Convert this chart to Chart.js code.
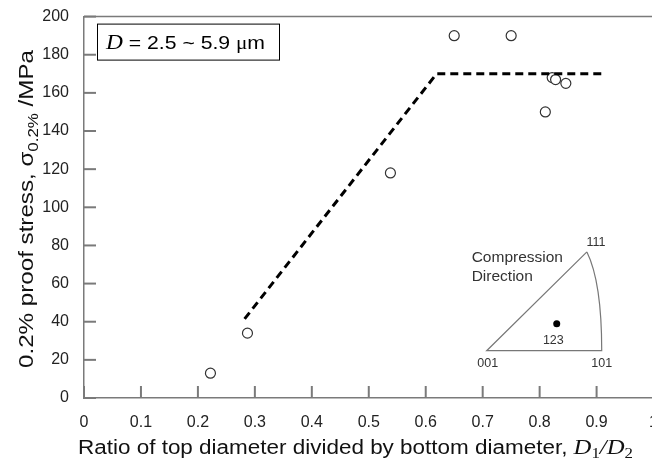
<!DOCTYPE html>
<html>
<head>
  <meta charset="utf-8">
  <title>Proof stress vs diameter ratio</title>
  <script src="https://cdn.jsdelivr.net/npm/chart.js"></script>
  <style>
    html, body { margin: 0; padding: 0; overflow: hidden; background: #fff; }
    .chart-container { width: 665px; height: 464px; position: relative; }
  </style>
</head>
<body>
  <div class="chart-container">
    <canvas id="stressChart"></canvas>
  </div>

  <script>
    // measured samples
    const ratio  = [0.222, 0.287, 0.538, 0.650, 0.750, 0.810, 0.822, 0.828, 0.846];
    const stress = [13, 34, 118, 190, 190, 150, 168, 167, 165];
    // dashed guide line
    const fitX = [0.282, 0.619, 0.912];
    const fitY = [41.5, 170, 170];
    // axis ticks
    const xTicks = [0, 0.1, 0.2, 0.3, 0.4, 0.5, 0.6, 0.7, 0.8, 0.9, 1];
    const yTicks = [0, 20, 40, 60, 80, 100, 120, 140, 160, 180, 200];

    const SANS = '"Liberation Sans", Arial, sans-serif';
    const SERIF = '"Liberation Serif", "Times New Roman", serif';
    const AXIS = '#7a7a7a';

    function drawRich(ctx, parts, x, y, width) {
      let total = 0;
      parts.forEach(p => { ctx.font = p.f; total += ctx.measureText(p.t).width; });
      const sx = width ? width / total : 1;
      ctx.save();
      ctx.translate(x, y);
      ctx.scale(sx, 1);
      ctx.textAlign = 'left';
      ctx.textBaseline = 'alphabetic';
      let cx = 0;
      parts.forEach(p => {
        ctx.font = p.f;
        ctx.fillText(p.t, cx, p.dy || 0);
        cx += ctx.measureText(p.t).width;
      });
      ctx.restore();
    }

    const decor = {
      id: 'decor',
      beforeDatasetsDraw(chart) {
        const ctx = chart.ctx, a = chart.chartArea;
        const xs = chart.scales.x, ys = chart.scales.y;
        ctx.save();
        ctx.strokeStyle = AXIS;
        ctx.lineWidth = 1.5;
        // top frame line
        ctx.beginPath();
        ctx.moveTo(a.left, a.top); ctx.lineTo(chart.width, a.top);
        ctx.stroke();
        // inward ticks
        ctx.lineWidth = 2;
        yTicks.forEach(v => {
          const py = ys.getPixelForValue(v);
          ctx.beginPath(); ctx.moveTo(a.left, py); ctx.lineTo(a.left + 12, py); ctx.stroke();
        });
        xTicks.forEach(v => {
          const px = xs.getPixelForValue(v);
          ctx.beginPath(); ctx.moveTo(px, a.bottom); ctx.lineTo(px, a.bottom - 12); ctx.stroke();
        });

        // label box
        ctx.fillStyle = '#fff';
        ctx.strokeStyle = '#000';
        ctx.lineWidth = 1;
        ctx.fillRect(a.left + 13, a.top + 7, 182, 36);
        ctx.strokeRect(a.left + 13.5, a.top + 7.5, 182, 36);
        ctx.fillStyle = '#000';
        drawRich(ctx, [
          { t: 'D', f: 'italic 21px ' + SERIF },
          { t: ' = 2.5 ~ 5.9 ', f: '19px ' + SANS },
          { t: 'μ', f: '19px ' + SERIF },
          { t: 'm', f: '19px ' + SANS }
        ], a.left + 22, a.top + 32, 159);

        // inverse pole figure inset
        const p001 = [xs.getPixelForValue(0.707), ys.getPixelForValue(24.8)];
        const p101 = [xs.getPixelForValue(0.909), ys.getPixelForValue(24.8)];
        const p111 = [xs.getPixelForValue(0.883), ys.getPixelForValue(76.6)];
        ctx.strokeStyle = '#777';
        ctx.lineWidth = 1.2;
        ctx.beginPath();
        ctx.moveTo(p111[0], p111[1]);
        ctx.lineTo(p001[0], p001[1]);
        ctx.lineTo(p101[0], p101[1]);
        ctx.quadraticCurveTo(p101[0], p111[1] + 30, p111[0], p111[1]);
        ctx.stroke();
        ctx.fillStyle = '#000';
        ctx.beginPath();
        ctx.arc(xs.getPixelForValue(0.830), ys.getPixelForValue(38.9), 3.5, 0, Math.PI * 2);
        ctx.fill();
        ctx.fillStyle = '#333';
        ctx.font = '15.5px ' + SANS;
        ctx.textAlign = 'left';
        ctx.textBaseline = 'alphabetic';
        ctx.fillText('Compression', p001[0] - 15, p111[1] + 10);
        ctx.fillText('Direction', p001[0] - 15, p111[1] + 29);
        ctx.font = '12.5px ' + SANS;
        ctx.textAlign = 'center';
        ctx.fillText('111', p111[0] + 9, p111[1] - 6);
        ctx.fillText('123', xs.getPixelForValue(0.824), ys.getPixelForValue(28.5));
        ctx.fillText('001', p001[0] + 1, p001[1] + 16);
        ctx.fillText('101', p101[0], p101[1] + 16);

        // axis titles
        ctx.fillStyle = '#111';
        drawRich(ctx, [
          { t: 'Ratio of top diameter divided by bottom diameter, ', f: '20px ' + SANS },
          { t: 'D', f: 'italic 22px ' + SERIF },
          { t: '1', f: '15px ' + SERIF, dy: 4 },
          { t: '/', f: 'italic 22px ' + SERIF },
          { t: 'D', f: 'italic 22px ' + SERIF },
          { t: '2', f: '15px ' + SERIF, dy: 4 }
        ], 78, 454, 555);

        ctx.save();
        ctx.translate(33, 368);
        ctx.rotate(-Math.PI / 2);
        drawRich(ctx, [
          { t: '0.2% proof stress, ', f: '20px ' + SANS },
          { t: 'σ', f: '20px ' + SANS },
          { t: '0.2%', f: '14px ' + SANS, dy: 5 },
          { t: ' /MPa', f: '20px ' + SANS }
        ], 0, 0, 318);
        ctx.restore();
        ctx.restore();
      }
    };

    new Chart(document.getElementById('stressChart'), {
      type: 'scatter',
      data: {
        datasets: [
          {
            label: 'guide',
            data: fitX.map((x, i) => ({ x, y: fitY[i] })),
            showLine: true,
            borderColor: '#000',
            borderWidth: 3,
            borderDash: [8, 5],
            pointRadius: 0,
            fill: false
          },
          {
            label: 'proof stress',
            data: ratio.map((x, i) => ({ x, y: stress[i] })),
            pointStyle: 'circle',
            pointRadius: 5,
            pointBackgroundColor: '#fff',
            pointBorderColor: '#333',
            pointBorderWidth: 1.2
          }
        ]
      },
      options: {
        responsive: true,
        maintainAspectRatio: false,
        animation: false,
        layout: { padding: { top: 8, left: 0, right: 0, bottom: 0 } },
        plugins: { legend: { display: false }, tooltip: { enabled: false } },
        scales: {
          x: {
            type: 'linear', min: 0, max: 1,
            afterBuildTicks: s => { s.ticks = xTicks.map(v => ({ value: v })); },
            afterFit: s => { s.height = 66; },
            grid: { display: false },
            border: { display: true, color: AXIS, width: 1.5 },
            ticks: { font: { family: SANS, size: 16 }, color: '#222', padding: 7, maxRotation: 0,
                     callback: v => String(v) }
          },
          y: {
            type: 'linear', min: 0, max: 200,
            afterBuildTicks: s => { s.ticks = yTicks.map(v => ({ value: v })); },
            afterFit: s => { s.width = 84; },
            grid: { display: false },
            border: { display: true, color: AXIS, width: 1.5 },
            ticks: { font: { family: SANS, size: 16 }, color: '#222', padding: 7 }
          }
        }
      },
      plugins: [decor]
    });
  </script>
</body>
</html>
